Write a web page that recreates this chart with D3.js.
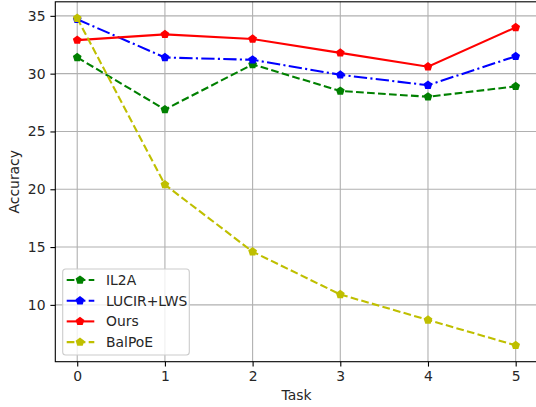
<!DOCTYPE html>
<html>
<head>
<meta charset="utf-8">
<script src="https://cdn.jsdelivr.net/npm/d3@7"></script>
<style>
  body { margin: 0; background: #fff; }
  svg { display: block; font-family: 'DejaVu Sans', sans-serif; }
</style>
</head>
<body>
<script>
var tasks = [0, 1, 2, 3, 4, 5];
var il2a = [31.4, 26.9, 30.8, 28.5, 28.0, 28.9];
var lucir = [34.7, 31.4, 31.2, 29.9, 29.0, 31.5];
var ours = [32.9, 33.4, 33.0, 31.8, 30.6, 34.0];
var balpoe = [34.8, 20.4, 14.6, 10.9, 8.7, 6.5];
var yTicks = [10, 15, 20, 25, 30, 35];

var series = [
  {name: 'IL2A', values: il2a, color: '#008000', dash: '7.7,3.3'},
  {name: 'LUCIR+LWS', values: lucir, color: '#0000ff', dash: '13.3,3.3,2.1,3.3'},
  {name: 'Ours', values: ours, color: '#ff0000', dash: null},
  {name: 'BalPoE', values: balpoe, color: '#bfbf00', dash: '7.7,3.3'}
];

var width = 536, height = 407;
var padL = 55.3, padR = 537.6, padT = 1.8, padB = 361.7;

var allVals = d3.merge(series.map(function(s){ return s.values; }));
var ymin = d3.min(allVals), ymax = d3.max(allVals);
var ypad = (ymax - ymin) * 0.05;

var x = d3.scaleLinear().domain([-0.25, 5.25]).range([padL, padR]);
var y = d3.scaleLinear().domain([ymin - ypad, ymax + ypad]).range([padB, padT]);

var svg = d3.select('body').append('svg')
  .attr('width', width)
  .attr('height', height);

// grid
svg.append('g').selectAll('line')
  .data(tasks).enter().append('line')
  .attr('x1', function(d){ return x(d); })
  .attr('x2', function(d){ return x(d); })
  .attr('y1', padT).attr('y2', padB)
  .attr('stroke', '#b0b0b0').attr('stroke-width', 1.1);
svg.append('g').selectAll('line')
  .data(yTicks).enter().append('line')
  .attr('y1', function(d){ return y(d); })
  .attr('y2', function(d){ return y(d); })
  .attr('x1', padL).attr('x2', padR)
  .attr('stroke', '#b0b0b0').attr('stroke-width', 1.1);

// axes
var xAxis = svg.append('g')
  .attr('transform', 'translate(0,' + padB + ')')
  .call(d3.axisBottom(x).tickValues(tasks).tickFormat(d3.format('d'))
    .tickSizeInner(4.9).tickSizeOuter(0).tickPadding(4.9));
var yAxis = svg.append('g')
  .attr('transform', 'translate(' + padL + ',0)')
  .call(d3.axisLeft(y).tickValues(yTicks).tickFormat(d3.format('d'))
    .tickSizeInner(4.9).tickSizeOuter(0).tickPadding(4.9));
[xAxis, yAxis].forEach(function(a){
  a.select('.domain').remove();
  a.selectAll('line').attr('stroke', '#000').attr('stroke-width', 1.1);
  a.selectAll('text').attr('font-size', 13.9).attr('fill', '#262626')
    .attr('font-family', "'DejaVu Sans', sans-serif");
});

// spines
svg.append('rect')
  .attr('x', padL).attr('y', padT)
  .attr('width', padR - padL).attr('height', padB - padT)
  .attr('fill', 'none').attr('stroke', '#000').attr('stroke-width', 1.1);

svg.append('text')
  .attr('x', x(2.5)).attr('y', 400)
  .attr('text-anchor', 'middle')
  .attr('font-size', 13.9)
  .attr('fill', '#262626')
  .text('Task');
svg.append('text')
  .attr('transform', 'translate(19,' + ((padT + padB) / 2) + ') rotate(-90)')
  .attr('text-anchor', 'middle')
  .attr('font-size', 13.9)
  .attr('fill', '#262626')
  .text('Accuracy');

// pentagon marker
function pentagonPath(r) {
  var pts = [];
  for (var i = 0; i < 5; i++) {
    var a = -Math.PI / 2 + i * 2 * Math.PI / 5;
    pts.push([r * Math.cos(a), r * Math.sin(a)]);
  }
  return 'M' + pts.join('L') + 'Z';
}
var markerR = 4.6;

var line = d3.line()
  .x(function(d, i){ return x(tasks[i]); })
  .y(function(d){ return y(d); });

series.forEach(function(s){
  var g = svg.append('g');
  g.append('path')
    .attr('d', line(s.values))
    .attr('fill', 'none')
    .attr('stroke', s.color)
    .attr('stroke-width', 2.1)
    .attr('stroke-dasharray', s.dash);
  g.selectAll('path.m')
    .data(s.values).enter().append('path')
    .attr('class', 'm')
    .attr('transform', function(d, i){ return 'translate(' + x(tasks[i]) + ',' + y(d) + ')'; })
    .attr('d', pentagonPath(markerR))
    .attr('fill', s.color);
});

// legend
var legend = svg.append('g').attr('transform', 'translate(62.7,269)');
legend.append('rect')
  .attr('width', 126.6).attr('height', 86)
  .attr('rx', 3).attr('ry', 3)
  .attr('fill', 'rgba(255,255,255,0.8)')
  .attr('stroke', '#cccccc').attr('stroke-width', 1.1);
var item = legend.selectAll('g.item')
  .data(series).enter().append('g')
  .attr('class', 'item')
  .attr('transform', function(d, i){ return 'translate(0,' + (11 + i * 20.7) + ')'; });
item.append('line')
  .attr('x1', 4).attr('x2', 31.6)
  .attr('stroke', function(d){ return d.color; })
  .attr('stroke-width', 2.1)
  .attr('stroke-dasharray', function(d){ return d.dash; });
item.append('path')
  .attr('transform', 'translate(17.3,0)')
  .attr('d', pentagonPath(markerR))
  .attr('fill', function(d){ return d.color; });
item.append('text')
  .attr('x', 43.3).attr('dy', '0.35em')
  .attr('font-size', 13.9)
  .attr('fill', '#262626')
  .text(function(d){ return d.name; });
</script>
</body>
</html>
